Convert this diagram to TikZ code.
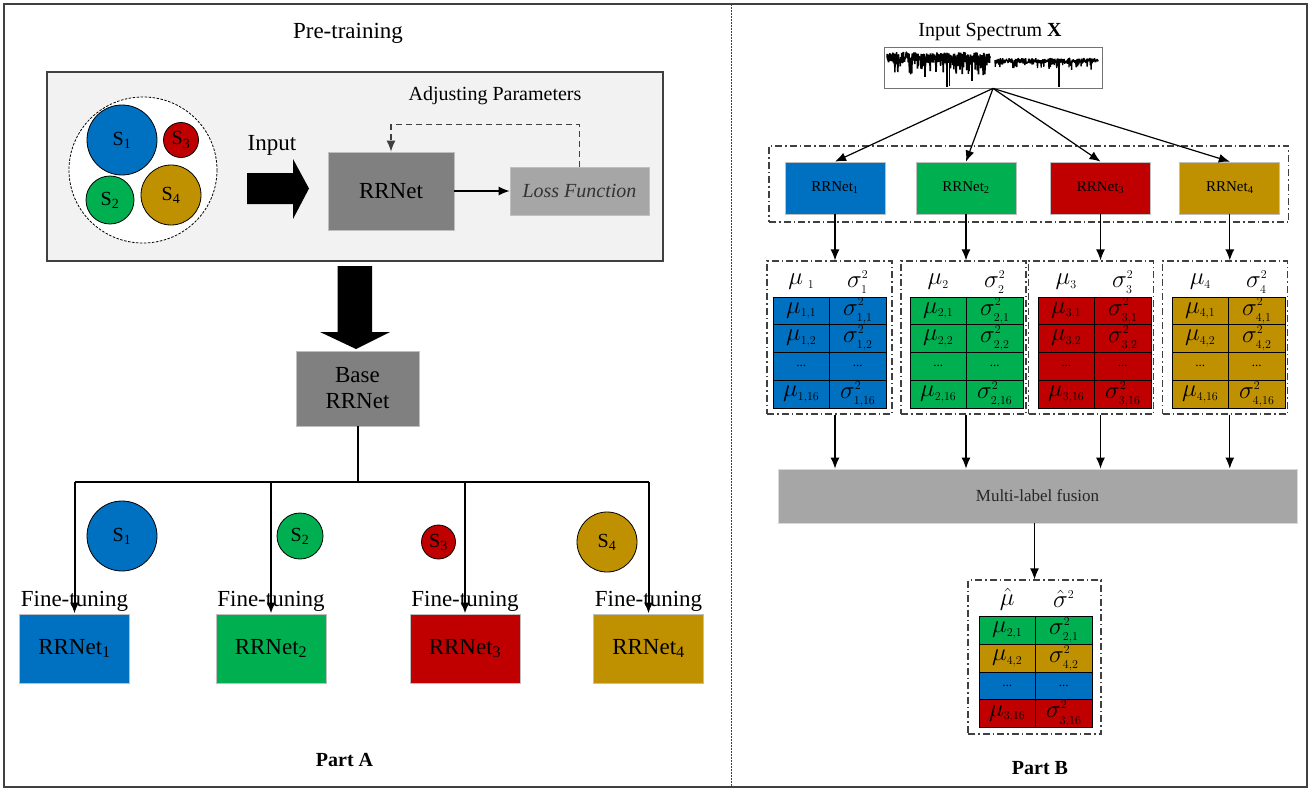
\documentclass[tikz,border=0pt]{standalone}
\usepackage{fontspec}
\setmainfont{Liberation Serif}
\usetikzlibrary{arrows.meta}

\definecolor{sblue}{HTML}{0070C0}
\definecolor{sgreen}{HTML}{00B050}
\definecolor{sred}{HTML}{C00000}
\definecolor{sgold}{HTML}{BF9000}
\definecolor{netgrey}{HTML}{808080}
\definecolor{lossgrey}{HTML}{A6A6A6}
\definecolor{bggrey}{HTML}{F2F2F2}
\definecolor{framegrey}{HTML}{404040}

\tikzset{
  fbig/.style={font=\fontsize{23}{26}\selectfont},
  fmid/.style={font=\fontsize{20}{23}\selectfont},
  fgreek/.style={font=\fontsize{23}{23}\selectfont},
  netbox/.style={draw=black!25, line width=0.8pt, inner sep=0pt, text=black},
  setcircle/.style={circle, draw=black, line width=0.8pt, inner sep=0pt, fmid},
  tcell/.style={draw=black, line width=1pt, minimum width=56.5pt, minimum height=27.75pt, inner sep=0pt, fgreek},
  dots/.style={font=\fontsize{13}{13}\selectfont},
  dashdot/.style={draw=framegrey, line width=1.2pt, dash pattern=on 7pt off 3pt on 1.5pt off 3pt},
}

\begin{document}
\begin{tikzpicture}[x=1pt, y=-1pt, >={Latex[length=11pt,width=9pt]}]
				\useasboundingbox (0,0) rectangle (1311,790);
				\draw[framegrey, line width=1.2pt] (4,4) rectangle (1307,787);
				\draw[framegrey, line width=0.8pt, dash pattern=on 1.5pt off 1.5pt] (731,4) -- (731,787);

				% Part A: pre-training
				\draw node[fbig] (pre) at (348,33) {Pre-training};
				\draw[framegrey, fill=bggrey, line width=1.5pt] (47,72) rectangle (663,261);
				\draw[black, fill=white, line width=0.8pt, dash pattern=on 2.5pt off 1.5pt] (143,170) ellipse (74 and 73);
				\draw node[setcircle, fill=sblue, minimum size=70pt] (s1) at (122,140) {S\textsubscript{1}};
				\draw node[setcircle, fill=sred, minimum size=35pt] (s3) at (181,140) {S\textsubscript{3}};
				\draw node[setcircle, fill=sgreen, minimum size=48pt] (s2) at (110,200) {S\textsubscript{2}};
				\draw node[setcircle, fill=sgold, minimum size=60pt] (s4) at (171,195) {S\textsubscript{4}};
				\draw node[fbig] (input) at (272,145) {Input};
				\fill (247,173) -- (293,173) -- (293,159) -- (309,188.5) -- (293,219) -- (293,204) -- (247,204) -- cycle;
				\draw node[netbox, fill=netgrey, minimum width=126pt, minimum height=78pt, fbig] (rrnet) at (391,191) {RRNet};
				\draw node[netbox, fill=lossgrey, minimum width=139pt, minimum height=48pt, fmid, text=black!80] (loss) at (579.5,191) {\itshape Loss Function};
				\draw node[fmid] (adjust) at (495,96) {Adjusting Parameters};
				\draw[->, line width=1.2pt] (rrnet.east) -- (loss.west);
				\draw[->, framegrey, line width=1.2pt, dash pattern=on 6pt off 4pt] (loss.north) -- ++(0,-42) -| (rrnet.north);

				% Part A: fine-tuning
				\fill (337.5,266) -- (372,266) -- (372,332) -- (390,332) -- (356,349) -- (320,332) -- (337.5,332) -- cycle;
				\draw node[netbox, fill=netgrey, minimum width=123pt, minimum height=75pt, fbig, align=center] (base) at (357.5,388.5) {Base\\RRNet};
				\draw node[netbox, fill=sblue, minimum width=110pt, minimum height=69pt, fbig] (ft1) at (74.5,648.5) {RRNet\textsubscript{1}};
				\draw node[netbox, fill=sgreen, minimum width=110pt, minimum height=69pt, fbig] (ft2) at (271,648.5) {RRNet\textsubscript{2}};
				\draw node[netbox, fill=sred, minimum width=110pt, minimum height=69pt, fbig] (ft3) at (465,648.5) {RRNet\textsubscript{3}};
				\draw node[netbox, fill=sgold, minimum width=110pt, minimum height=69pt, fbig] (ft4) at (648.5,648.5) {RRNet\textsubscript{4}};
				\draw node[fbig] (tune1) at (74.5,601) {Fine-tuning};
				\draw node[fbig] (tune2) at (271,601) {Fine-tuning};
				\draw node[fbig] (tune3) at (465,601) {Fine-tuning};
				\draw node[fbig] (tune4) at (648.5,601) {Fine-tuning};
				\draw node[setcircle, fill=sblue, minimum size=70pt] (t1) at (122,536) {S\textsubscript{1}};
				\draw node[setcircle, fill=sgreen, minimum size=46pt] (t2) at (300,536) {S\textsubscript{2}};
				\draw node[setcircle, fill=sred, minimum size=34pt] (t3) at (438.5,542) {S\textsubscript{3}};
				\draw node[setcircle, fill=sgold, minimum size=60pt] (t4) at (607,542) {S\textsubscript{4}};
				\coordinate (split) at (357.5,482);
				\draw[line width=2pt] (base.south) -- (split);
				\draw[line width=2pt] (ft1.north |- split) -- (ft4.north |- split);
				\draw[->, line width=2pt] (ft1.north |- split) -- (ft1.north);
				\draw[->, line width=2pt] (ft2.north |- split) -- (ft2.north);
				\draw[->, line width=2pt] (ft3.north |- split) -- (ft3.north);
				\draw[->, line width=2pt] (ft4.north |- split) -- (ft4.north);
				\draw node[fmid] (parta) at (344.5,760) {\bfseries Part A};

				% Part B: spectrum and four nets
				\draw node[fmid] (spectitle) at (990,32) {Input Spectrum \textbf{X}};
				\draw node[draw=black!55, line width=0.8pt, minimum width=218pt, minimum height=41pt, inner sep=0pt] (spec) at (993,67.5) {};
				\pgfmathsetseed{11}
				\draw[line width=1.6pt, line join=bevel] plot[domain=887:990, samples=420] (\x, {52+11*rnd+13*rnd^6});
				\draw[line width=1.3pt, line join=bevel] plot[domain=995:1098, samples=360] (\x, {58+5*rnd+8*rnd^6});
				\draw[line width=1.5pt] (947,60) -- (947,87) (949.5,60) -- (949.5,86) (972,60) -- (972,81) (925,60) -- (925,77) (1059,62) -- (1059,87);
				\draw node[dashdot, minimum width=519.6pt, minimum height=76pt, inner sep=0pt] (nets) at (1028.8,184) {};
				\draw node[netbox, fill=sblue, minimum width=100pt, minimum height=52pt, font=\fontsize{15}{17}\selectfont] (b1) at (835,188) {RRNet\textsubscript{1}};
				\draw node[netbox, fill=sgreen, minimum width=100pt, minimum height=52pt, font=\fontsize{15}{17}\selectfont] (b2) at (966,188) {RRNet\textsubscript{2}};
				\draw node[netbox, fill=sred, minimum width=100pt, minimum height=52pt, font=\fontsize{15}{17}\selectfont] (b3) at (1100.5,188) {RRNet\textsubscript{3}};
				\draw node[netbox, fill=sgold, minimum width=100pt, minimum height=52pt, font=\fontsize{15}{17}\selectfont] (b4) at (1229.8,188) {RRNet\textsubscript{4}};
				\draw[->, line width=1.2pt] (spec.south) -- (b1.north);
				\draw[->, line width=1.2pt] (spec.south) -- (b2.north);
				\draw[->, line width=1.2pt] (spec.south) -- (b3.north);
				\draw[->, line width=1.2pt] (spec.south) -- (b4.north);

				% Part B: label tables
				\pgfmathsetmacro\RH{27.75}
				\pgfmathsetmacro\YA{297+\RH/2}
				\pgfmathsetmacro\YB{\YA+\RH}
				\pgfmathsetmacro\YC{\YB+\RH}
				\pgfmathsetmacro\YD{\YC+\RH}
				\draw node[dashdot, minimum width=125pt, minimum height=153pt, inner sep=0pt] (g1) at (829.5,337.5) {};
				\draw node[dashdot, minimum width=125pt, minimum height=153pt, inner sep=0pt] (g2) at (963.5,337.5) {};
				\draw node[dashdot, minimum width=125pt, minimum height=153pt, inner sep=0pt] (g3) at (1091,337.5) {};
				\draw node[dashdot, minimum width=125pt, minimum height=153pt, inner sep=0pt] (g4) at (1225.2,337.5) {};

				\draw node[fgreek] (h1m) at (801.25,282) {$\mu_{\;\scriptscriptstyle 1}$};
				\draw node[fgreek] (h1s) at (857.75,282) {$\sigma^{\scriptscriptstyle 2}_{\scriptscriptstyle 1}$};
				\draw node[tcell, fill=sblue] (m11) at (801.25,\YA) {$\mu_{\scriptscriptstyle 1,1}$};
				\draw node[tcell, fill=sblue] (v11) at (857.75,\YA) {$\sigma^{\scriptscriptstyle 2}_{\scriptscriptstyle 1,1}$};
				\draw node[tcell, fill=sblue] (m12) at (801.25,\YB) {$\mu_{\scriptscriptstyle 1,2}$};
				\draw node[tcell, fill=sblue] (v12) at (857.75,\YB) {$\sigma^{\scriptscriptstyle 2}_{\scriptscriptstyle 1,2}$};
				\draw node[tcell, fill=sblue, dots] (m13) at (801.25,\YC) {...};
				\draw node[tcell, fill=sblue, dots] (v13) at (857.75,\YC) {...};
				\draw node[tcell, fill=sblue] (m14) at (801.25,\YD) {$\mu_{\scriptscriptstyle 1,16}$};
				\draw node[tcell, fill=sblue] (v14) at (857.75,\YD) {$\sigma^{\scriptscriptstyle 2}_{\scriptscriptstyle 1,16}$};

				\draw node[fgreek] (h2m) at (938.25,282) {$\mu_{\scriptscriptstyle 2}$};
				\draw node[fgreek] (h2s) at (994.75,282) {$\sigma^{\scriptscriptstyle 2}_{\scriptscriptstyle 2}$};
				\draw node[tcell, fill=sgreen] (m21) at (938.25,\YA) {$\mu_{\scriptscriptstyle 2,1}$};
				\draw node[tcell, fill=sgreen] (v21) at (994.75,\YA) {$\sigma^{\scriptscriptstyle 2}_{\scriptscriptstyle 2,1}$};
				\draw node[tcell, fill=sgreen] (m22) at (938.25,\YB) {$\mu_{\scriptscriptstyle 2,2}$};
				\draw node[tcell, fill=sgreen] (v22) at (994.75,\YB) {$\sigma^{\scriptscriptstyle 2}_{\scriptscriptstyle 2,2}$};
				\draw node[tcell, fill=sgreen, dots] (m23) at (938.25,\YC) {...};
				\draw node[tcell, fill=sgreen, dots] (v23) at (994.75,\YC) {...};
				\draw node[tcell, fill=sgreen] (m24) at (938.25,\YD) {$\mu_{\scriptscriptstyle 2,16}$};
				\draw node[tcell, fill=sgreen] (v24) at (994.75,\YD) {$\sigma^{\scriptscriptstyle 2}_{\scriptscriptstyle 2,16}$};

				\draw node[fgreek] (h3m) at (1066.25,282) {$\mu_{\scriptscriptstyle 3}$};
				\draw node[fgreek] (h3s) at (1122.75,282) {$\sigma^{\scriptscriptstyle 2}_{\scriptscriptstyle 3}$};
				\draw node[tcell, fill=sred] (m31) at (1066.25,\YA) {$\mu_{\scriptscriptstyle 3,1}$};
				\draw node[tcell, fill=sred] (v31) at (1122.75,\YA) {$\sigma^{\scriptscriptstyle 2}_{\scriptscriptstyle 3,1}$};
				\draw node[tcell, fill=sred] (m32) at (1066.25,\YB) {$\mu_{\scriptscriptstyle 3,2}$};
				\draw node[tcell, fill=sred] (v32) at (1122.75,\YB) {$\sigma^{\scriptscriptstyle 2}_{\scriptscriptstyle 3,2}$};
				\draw node[tcell, fill=sred, dots] (m33) at (1066.25,\YC) {...};
				\draw node[tcell, fill=sred, dots] (v33) at (1122.75,\YC) {...};
				\draw node[tcell, fill=sred] (m34) at (1066.25,\YD) {$\mu_{\scriptscriptstyle 3,16}$};
				\draw node[tcell, fill=sred] (v34) at (1122.75,\YD) {$\sigma^{\scriptscriptstyle 2}_{\scriptscriptstyle 3,16}$};

				\draw node[fgreek] (h4m) at (1200.25,282) {$\mu_{\scriptscriptstyle 4}$};
				\draw node[fgreek] (h4s) at (1256.75,282) {$\sigma^{\scriptscriptstyle 2}_{\scriptscriptstyle 4}$};
				\draw node[tcell, fill=sgold] (m41) at (1200.25,\YA) {$\mu_{\scriptscriptstyle 4,1}$};
				\draw node[tcell, fill=sgold] (v41) at (1256.75,\YA) {$\sigma^{\scriptscriptstyle 2}_{\scriptscriptstyle 4,1}$};
				\draw node[tcell, fill=sgold] (m42) at (1200.25,\YB) {$\mu_{\scriptscriptstyle 4,2}$};
				\draw node[tcell, fill=sgold] (v42) at (1256.75,\YB) {$\sigma^{\scriptscriptstyle 2}_{\scriptscriptstyle 4,2}$};
				\draw node[tcell, fill=sgold, dots] (m43) at (1200.25,\YC) {...};
				\draw node[tcell, fill=sgold, dots] (v43) at (1256.75,\YC) {...};
				\draw node[tcell, fill=sgold] (m44) at (1200.25,\YD) {$\mu_{\scriptscriptstyle 4,16}$};
				\draw node[tcell, fill=sgold] (v44) at (1256.75,\YD) {$\sigma^{\scriptscriptstyle 2}_{\scriptscriptstyle 4,16}$};

				\draw[->, line width=1.2pt] (b1.south) -- (b1.south |- g1.north);
				\draw[->, line width=1.2pt] (b2.south) -- (b2.south |- g2.north);
				\draw[->, line width=1.2pt] (b3.south) -- (b3.south |- g3.north);
				\draw[->, line width=1.2pt] (b4.south) -- (b4.south |- g4.north);

				% Part B: fusion
				\draw node[fill=lossgrey, draw=black!15, line width=0.8pt, minimum width=519pt, minimum height=54pt, inner sep=0pt, font=\fontsize{17}{19}\selectfont, text=black!85] (fus) at (1037.5,496) {Multi-label fusion};
				\draw[->, line width=1.2pt] (b1.south |- g1.south) -- (b1.south |- fus.north);
				\draw[->, line width=1.2pt] (b2.south |- g2.south) -- (b2.south |- fus.north);
				\draw[->, line width=1.2pt] (b3.south |- g3.south) -- (b3.south |- fus.north);
				\draw[->, line width=1.2pt] (b4.south |- g4.south) -- (b4.south |- fus.north);

				\pgfmathsetmacro\ZA{616.7+\RH/2}
				\pgfmathsetmacro\ZB{\ZA+\RH}
				\pgfmathsetmacro\ZC{\ZB+\RH}
				\pgfmathsetmacro\ZD{\ZC+\RH}
				\draw node[dashdot, minimum width=133pt, minimum height=154pt, inner sep=0pt] (fin) at (1034.5,657) {};
				\draw[->, line width=1.2pt] (fin.north |- fus.south) -- (fin.north);
				\draw node[fgreek] (hfm) at (1007.25,599) {$\hat{\mu}$};
				\draw node[fgreek] (hfs) at (1063.75,599) {$\hat{\sigma}^{\scriptscriptstyle 2}$};
				\draw node[tcell, fill=sgreen] (f1m) at (1007.25,\ZA) {$\mu_{\scriptscriptstyle 2,1}$};
				\draw node[tcell, fill=sgreen] (f1s) at (1063.75,\ZA) {$\sigma^{\scriptscriptstyle 2}_{\scriptscriptstyle 2,1}$};
				\draw node[tcell, fill=sgold] (f2m) at (1007.25,\ZB) {$\mu_{\scriptscriptstyle 4,2}$};
				\draw node[tcell, fill=sgold] (f2s) at (1063.75,\ZB) {$\sigma^{\scriptscriptstyle 2}_{\scriptscriptstyle 4,2}$};
				\draw node[tcell, fill=sblue, dots] (f3m) at (1007.25,\ZC) {...};
				\draw node[tcell, fill=sblue, dots] (f3s) at (1063.75,\ZC) {...};
				\draw node[tcell, fill=sred] (f4m) at (1007.25,\ZD) {$\mu_{\scriptscriptstyle 3,16}$};
				\draw node[tcell, fill=sred] (f4s) at (1063.75,\ZD) {$\sigma^{\scriptscriptstyle 2}_{\scriptscriptstyle 3,16}$};
				\draw node[fmid] (partb) at (1040,768) {\bfseries Part B};
			\end{tikzpicture}
\end{document}
